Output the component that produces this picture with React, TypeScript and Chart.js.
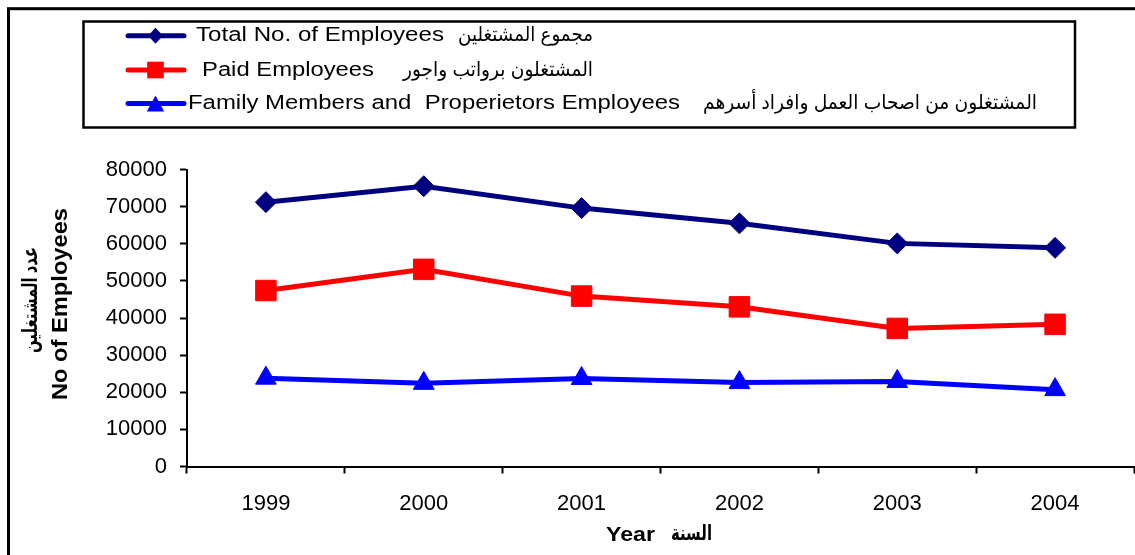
import React, { useEffect, useRef } from 'react';
import { Chart, registerables } from 'chart.js';

Chart.register(...registerables);

// ---- data ----
const years = ['1999', '2000', '2001', '2002', '2003', '2004'];
const totalEmployees = [71200, 75500, 69600, 65500, 60100, 58900];
const paidEmployees = [47400, 53100, 45900, 43000, 37200, 38300];
const familyEmployees = [23800, 22400, 23700, 22600, 22900, 20700];

const seriesEnglish = [
  'Total No. of Employees',
  'Paid Employees',
  'Family Members and  Properietors Employees',
];
const seriesArabic = [
  'مجموع المشتغلين',
  'المشتغلون برواتب واجور',
  'المشتغلون من اصحاب العمل وافراد أسرهم',
];
const yTitleEnglish = 'No of Employees';
const yTitleArabic = 'عدد المشتغلين';
const xTitleEnglish = 'Year';
const xTitleArabic = 'السنة';

const seriesColors = ['#000080', '#FF0000', '#0000FF'];
const FONT = '"Liberation Sans", Arial, "DejaVu Sans", sans-serif';

function fitText(
  ctx: CanvasRenderingContext2D,
  text: string,
  x: number,
  y: number,
  font: string,
  width: number,
  align: CanvasTextAlign,
  rot = 0
) {
  ctx.save();
  ctx.font = font;
  const w = ctx.measureText(text).width || 1;
  ctx.translate(x, y);
  ctx.rotate(rot);
  ctx.scale(width / w, 1);
  ctx.textAlign = align;
  ctx.textBaseline = 'middle';
  ctx.fillStyle = '#000';
  ctx.fillText(text, 0, 0);
  ctx.restore();
}

const decorPlugin = {
  id: 'decor',
  afterDraw(chart: any) {
    const ctx: CanvasRenderingContext2D = chart.ctx;
    ctx.save();
    // outer frame (cut by the window on right/bottom)
    ctx.strokeStyle = '#000';
    ctx.lineWidth = 3;
    ctx.strokeRect(8.5, 8.7, 1300, 700);
    // legend frame
    ctx.lineWidth = 2.5;
    ctx.strokeRect(83.5, 21.5, 991.5, 106);

    // legend samples
    const rowsY = [35.7, 70, 103.5];
    rowsY.forEach((y, i) => {
      ctx.strokeStyle = seriesColors[i];
      ctx.fillStyle = seriesColors[i];
      ctx.lineWidth = 5;
      ctx.lineCap = 'round';
      ctx.beginPath();
      ctx.moveTo(128, y);
      ctx.lineTo(184, y);
      ctx.stroke();
      const cx = 155.5;
      ctx.beginPath();
      if (i === 0) {
        ctx.moveTo(cx, y - 8);
        ctx.lineTo(cx + 7.5, y);
        ctx.lineTo(cx, y + 8);
        ctx.lineTo(cx - 7.5, y);
      } else if (i === 1) {
        ctx.rect(cx - 8.3, y - 8.3, 16.6, 16.6);
      } else {
        ctx.moveTo(cx, y - 8);
        ctx.lineTo(cx + 8.7, y + 8);
        ctx.lineTo(cx - 8.7, y + 8);
      }
      ctx.closePath();
      ctx.fill();
    });

    const engX = [196, 202, 188];
    const engW = [248, 172, 492];
    const arR = [593, 593, 1037];
    const arW = [135, 190, 334];
    rowsY.forEach((y, i) => {
      fitText(ctx, seriesEnglish[i], engX[i], y, `20px ${FONT}`, engW[i], 'left');
      fitText(ctx, seriesArabic[i], arR[i], y, `20px ${FONT}`, arW[i], 'right');
    });

    // y-axis titles
    fitText(ctx, yTitleArabic, 31, 300, `bold 21px ${FONT}`, 106, 'center', -Math.PI / 2);
    fitText(ctx, yTitleEnglish, 60.5, 304, `bold 22px ${FONT}`, 192, 'center', -Math.PI / 2);

    // x-axis titles
    fitText(ctx, xTitleEnglish, 606, 535.5, `bold 20px ${FONT}`, 49, 'left');
    fitText(ctx, xTitleArabic, 712, 534, `bold 21px ${FONT}`, 41, 'right');
    ctx.restore();
  },
};

export default function App() {
  const ref = useRef<HTMLCanvasElement | null>(null);

  useEffect(() => {
    if (!ref.current) return;
    const chart = new Chart(ref.current, {
      type: 'line',
      data: {
        labels: years,
        datasets: [
          {
            label: seriesEnglish[0],
            data: totalEmployees,
            borderColor: seriesColors[0],
            backgroundColor: seriesColors[0],
            pointStyle: 'rectRot',
            pointRadius: 10.5,
            borderWidth: 5,
            pointBorderWidth: 1,
          },
          {
            label: seriesEnglish[1],
            data: paidEmployees,
            borderColor: seriesColors[1],
            backgroundColor: seriesColors[1],
            pointStyle: 'rect',
            pointRadius: 14.5,
            borderWidth: 5,
            pointBorderWidth: 1,
          },
          {
            label: seriesEnglish[2],
            data: familyEmployees,
            borderColor: seriesColors[2],
            backgroundColor: seriesColors[2],
            pointStyle: 'triangle',
            pointRadius: 12,
            borderWidth: 5,
            pointBorderWidth: 1,
          },
        ],
      },
      options: {
        responsive: false,
        animation: false,
        layout: { autoPadding: false, padding: { left: 0, right: 1, top: 169.5, bottom: 0 } },
        plugins: {
          legend: { display: false },
          tooltip: { enabled: false },
          title: { display: false },
        },
        elements: { line: { tension: 0 } },
        scales: {
          x: {
            offset: true,
            grid: {
              offset: true,
              drawOnChartArea: false,
              drawTicks: true,
              tickLength: 7,
              tickWidth: 2,
              tickColor: '#000',
            },
            border: { display: true, color: '#000', width: 2 },
            ticks: {
              color: '#000',
              font: { family: FONT, size: 22 },
              padding: 17,
              maxRotation: 0,
            },
            title: { display: false },
            afterFit(scale: any) {
              scale.height = 88.5;
              scale.paddingLeft = 0;
              scale.paddingRight = 0;
            },
          },
          y: {
            min: 0,
            max: 80000,
            grid: {
              drawOnChartArea: false,
              drawTicks: true,
              tickLength: 7,
              tickWidth: 2,
              tickColor: '#000',
            },
            border: { display: true, color: '#000', width: 2 },
            ticks: {
              stepSize: 10000,
              color: '#000',
              font: { family: FONT, size: 22 },
              padding: 13,
              callback: (v: any) => String(v),
            },
            afterFit(scale: any) {
              scale.width = 187;
            },
          },
        },
      },
      plugins: [decorPlugin],
    } as any);
    return () => chart.destroy();
  }, []);

  return (
    <div style={{ position: 'fixed', left: 0, top: 0, width: 1135, height: 555, background: '#fff' }}>
      <canvas ref={ref} width={1135} height={555} style={{ display: 'block' }} />
    </div>
  );
}
